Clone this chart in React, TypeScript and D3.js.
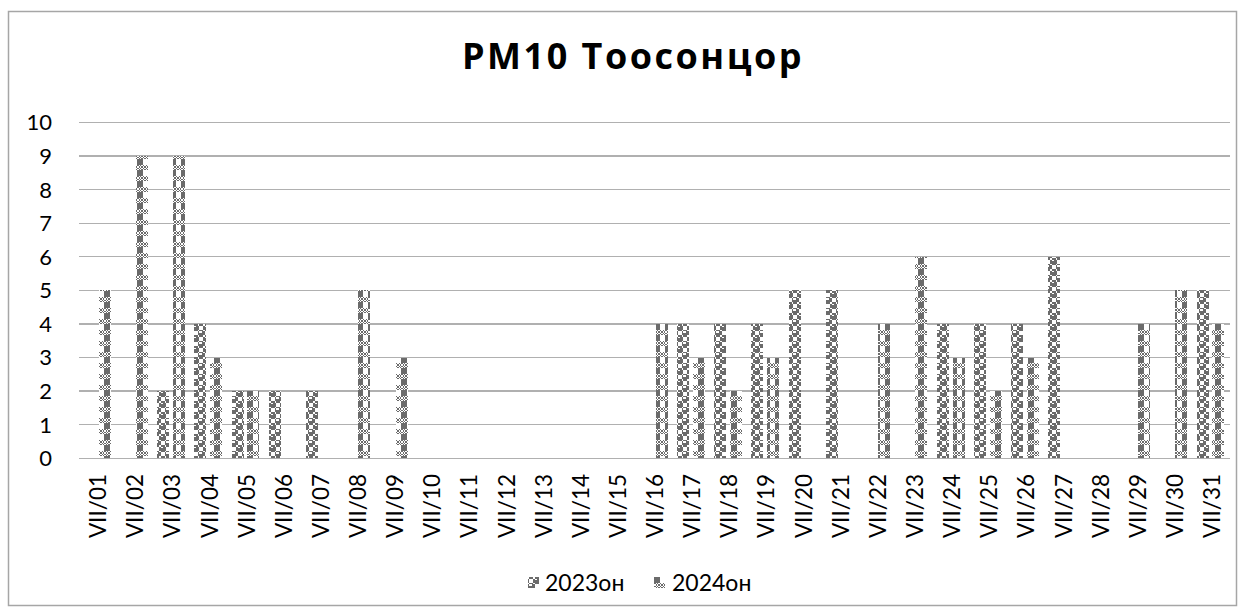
import * as d3 from 'd3'

const categories = [
  'VII/01', 'VII/02', 'VII/03', 'VII/04', 'VII/05', 'VII/06', 'VII/07', 'VII/08',
  'VII/09', 'VII/10', 'VII/11', 'VII/12', 'VII/13', 'VII/14', 'VII/15', 'VII/16',
  'VII/17', 'VII/18', 'VII/19', 'VII/20', 'VII/21', 'VII/22', 'VII/23', 'VII/24',
  'VII/25', 'VII/26', 'VII/27', 'VII/28', 'VII/29', 'VII/30', 'VII/31',
]
const values2023 = [0, 0, 2, 4, 2, 2, 2, 0, 0, 0, 0, 0, 0, 0, 0, 0, 4, 4, 4, 5, 5, 0, 0, 4, 4, 4, 6, 0, 0, 0, 5]
const values2024 = [5, 9, 9, 3, 2, 0, 0, 5, 3, 0, 0, 0, 0, 0, 0, 4, 3, 2, 3, 0, 0, 4, 6, 3, 2, 3, 0, 0, 4, 5, 4]
const seriesNames = ['2023он', '2024он']
const yTicks = [0, 1, 2, 3, 4, 5, 6, 7, 8, 9, 10]

// 8x8 hatch bitmaps (sphere / plaid), drawn with Excel's 133% pixel stretch
const spherePattern = [0x77, 0x98, 0xf8, 0xf8, 0x77, 0x89, 0x8f, 0x8f]
const plaidPattern = [0xaa, 0x55, 0xaa, 0x55, 0x0f, 0x0f, 0x0f, 0x0f]
const cellEdges = [0, 1, 3, 4, 5, 7, 8, 9, 11]

const FONT = 'Lato, "Open Sans", sans-serif'
const INK = '#6b6b6b'
const GRID = '#b0b0b0'

function Hatch({ id, bits }: { id: string; bits: number[] }) {
  const cells: JSX.Element[] = []
  bits.forEach((row, r) => {
    for (let c = 0; c < 8; c++) {
      if (row & (0x80 >> c)) {
        cells.push(
          <rect key={`${r}-${c}`}
            x={cellEdges[c]} y={cellEdges[r]}
            width={cellEdges[c + 1] - cellEdges[c]} height={cellEdges[r + 1] - cellEdges[r]}
            fill={INK} />
        )
      }
    }
  })
  return (
    <pattern id={id} patternUnits="userSpaceOnUse" width={11} height={11}>
      <rect width={11} height={11} fill="#fff" />
      {cells}
    </pattern>
  )
}

export default function App() {
  const width = 1247
  const height = 616
  const plot = { left: 78.5, right: 1229.5, top: 122.4, bottom: 458.3 }

  const x0 = d3.scaleBand<string>()
    .domain(categories)
    .range([plot.left, plot.right])
    .padding(0)

  const x1 = d3.scaleBand<string>()
    .domain(seriesNames)
    .range([0, x0.bandwidth()])
    .paddingInner(0.194)
    .paddingOuter(0.295)

  const y = d3.scaleLinear()
    .domain([0, 10])
    .range([plot.bottom, plot.top])

  const series = [
    { name: seriesNames[0], values: values2023, fill: 'url(#p2023)' },
    { name: seriesNames[1], values: values2024, fill: 'url(#p2024)' },
  ]

  return (
    <svg width={width} height={height}
      style={{ position: 'absolute', left: 0, top: 0, background: '#fff' }}
      fontFamily={FONT}>
      <defs>
        <Hatch id="p2023" bits={spherePattern} />
        <Hatch id="p2024" bits={plaidPattern} />
      </defs>

      <rect x={8.5} y={11.5} width={1228} height={594} fill="#fff" stroke="#a6a6a6" strokeWidth={1.5} />

      <text x={633} y={69} textAnchor="middle" fontSize={36} fontWeight="bold"
        letterSpacing={2.5} fontFamily='"Open Sans", Lato, sans-serif' fill="#000">
        PM10 Тоосонцор
      </text>

      {/* gridlines + y labels */}
      {yTicks.map(t => (
        <g key={t}>
          <line x1={plot.left} x2={plot.right} y1={y(t)} y2={y(t)}
            stroke={GRID} strokeWidth={1.3} shapeRendering="crispEdges" />
          <text x={52} y={y(t)} dy="0.36em" textAnchor="end" fontSize={22} fill="#000">{t}</text>
        </g>
      ))}

      {/* bars */}
      {series.map(s => (
        <g key={s.name}>
          {s.values.map((v, i) => v > 0 && (
            <rect key={i}
              x={Math.round(x0(categories[i])! + x1(s.name)!)}
              y={Math.round(y(v))}
              width={Math.round(x1.bandwidth())}
              height={Math.round(y(0)) - Math.round(y(v))}
              fill={s.fill}
              shapeRendering="crispEdges" />
          ))}
        </g>
      ))}

      {/* category labels */}
      {categories.map(c => (
        <text key={c}
          transform={`translate(${x0(c)! + x0.bandwidth() / 2 + 1},474) rotate(-90)`}
          dy="0.36em" textAnchor="end" fontSize={22.5} fill="#000">{c}</text>
      ))}

      {/* legend */}
      <rect x={528} y={577} width={11} height={11} fill="url(#p2023)" />
      <text x={545} y={590.5} fontSize={23} fill="#000">{seriesNames[0]}</text>
      <rect x={654} y={577} width={11} height={11} fill="url(#p2024)" />
      <text x={672} y={590.5} fontSize={23} fill="#000">{seriesNames[1]}</text>
    </svg>
  )
}
